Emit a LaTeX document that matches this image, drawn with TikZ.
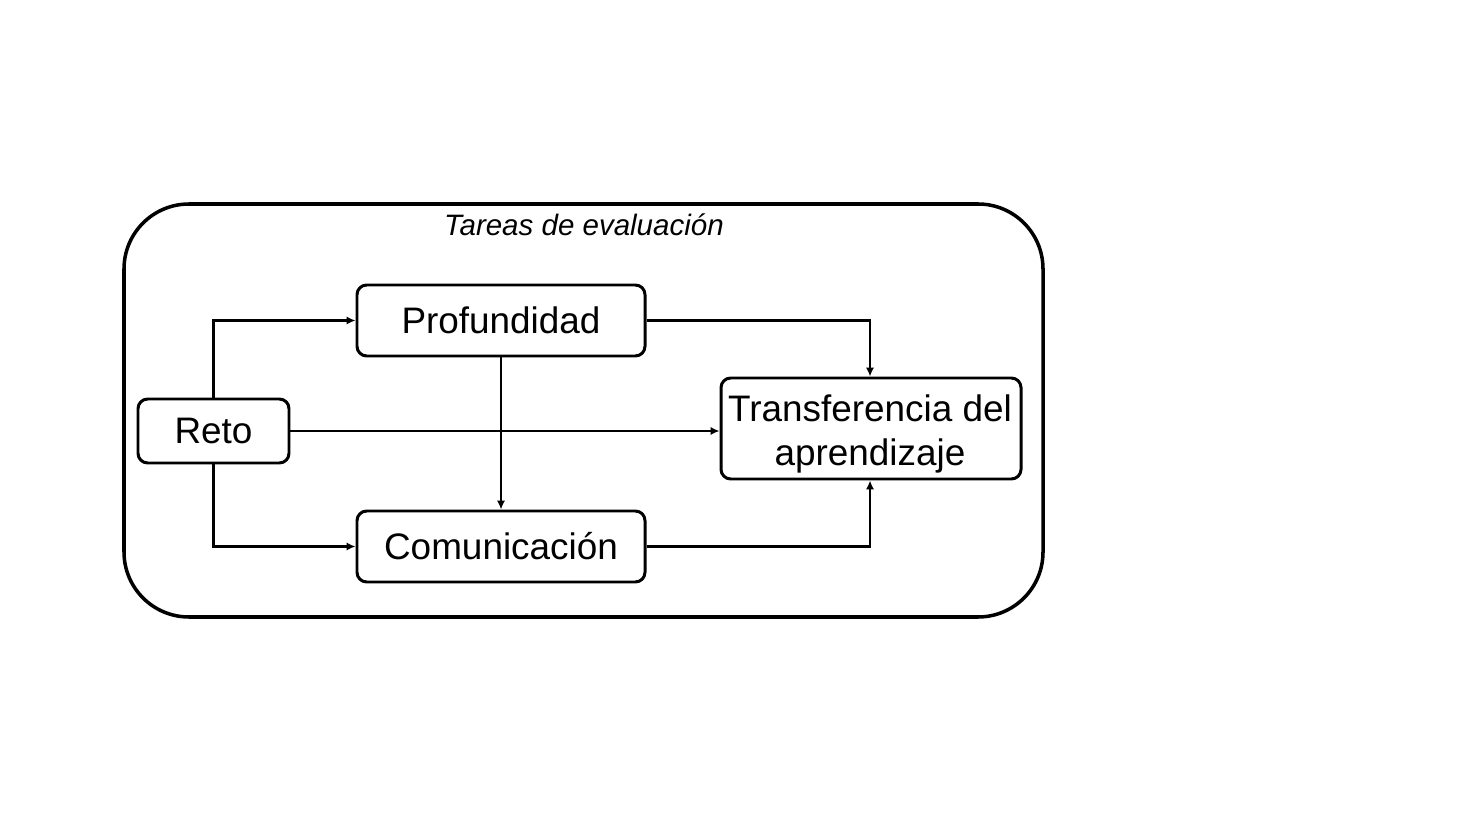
\documentclass[tikz,border=0pt]{standalone}
\usepackage{fontspec}
\setmainfont{Liberation Sans}
\usetikzlibrary{arrows.meta}
\begin{document}
\begin{tikzpicture}[x=0.02cm,y=-0.02cm,
  box/.style={draw=black,line width=1.7pt,rounded corners=5.5pt,inner sep=0pt,
    font=\fontsize{21pt}{24.6pt}\selectfont,align=center},
  lbl/.style={inner sep=0pt,font=\fontsize{21pt}{24.6pt}\selectfont,align=center},
  conn/.style={line width=1.5pt,-{Latex[length=5pt,width=4.6pt]}}]
\useasboundingbox (0,0) rectangle (1457,820);
\fill[white] (0,0) rectangle (1457,820);
\draw[line width=2pt,rounded corners=1.3cm] (124,204) rectangle (1043,617);
\node[font=\itshape\fontsize{16.8pt}{20pt}\selectfont] (title) at (584,225) {Tareas de evaluación};
\node[box,minimum width=288*0.02cm,minimum height=71*0.02cm] (prof) at (501,320.5) {Profundidad};
\node[box,minimum width=151*0.02cm,minimum height=64*0.02cm] (reto) at (213.5,431) {Reto};
\node[box,minimum width=288*0.02cm,minimum height=71*0.02cm] (com) at (501,546.5) {Comunicación};
\node[box,minimum width=300*0.02cm,minimum height=101*0.02cm] (trans) at (871,428.5) {};
\node[lbl] (transtext) at (870,434) {Transferencia del\\aprendizaje};
\coordinate (rt) at (reto.east);
\draw[conn] (reto.north) |- (prof.west);
\draw[conn] (reto.south) |- (com.west);
\draw[conn] (rt) -- (rt -| trans.west);
\draw[conn] (prof.south -| 501,0) -- (com.north -| 501,0);
\draw[conn] (prof.east) -| (trans.north -| 870,0);
\draw[conn] (com.east) -| (trans.south -| 870,0);
\end{tikzpicture}
\end{document}
